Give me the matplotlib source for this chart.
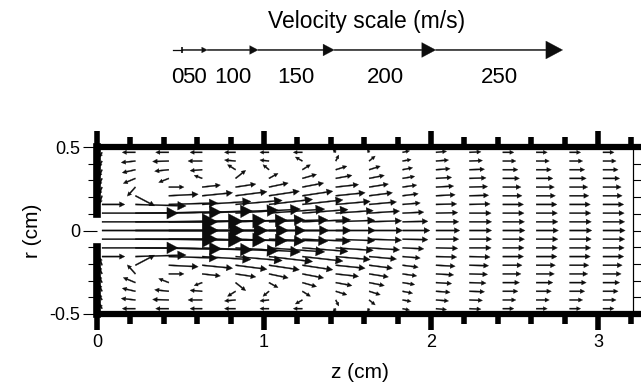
import matplotlib
matplotlib.use("Agg")
import matplotlib.pyplot as plt
import numpy as np

plt.rcParams['font.family'] = ['Liberation Sans', 'DejaVu Sans']
plt.rcParams['axes.unicode_minus'] = False

# ---------------- data ----------------
# axial positions of the arrow columns (cm)
z_cols = [0.03, 0.23, 0.43, 0.63, 0.83, 1.03, 1.23, 1.43,
          1.63, 1.83, 2.03, 2.23, 2.43, 2.63, 2.83, 3.03]
# radial positions of the upper-half rows (cm); field is mirrored about r = 0
r_half = [0.0, 0.052, 0.104, 0.156, 0.208, 0.260, 0.312, 0.364, 0.416, 0.468]

# axial velocity (m/s), one list per column, rows from axis (r=0) to wall
u_half = [
    [230, 228, 150, 45, -5, -6, -6, -6, -6, -5],
    [215, 212, 170, 100, 38, -16, -24, -26, -28, -26],
    [195, 192, 165, 96, 58, 30, -20, -28, -32, -26],
    [170, 168, 150, 96, 60, 36, -16, -24, -28, -24],
    [138, 136, 128, 92, 62, 40, 20, -16, -22, -22],
    [118, 116, 110, 86, 60, 38, 18, -12, -18, -18],
    [96, 95, 90, 80, 60, 42, 28, 16, -14, -18],
    [78, 77, 74, 68, 58, 45, 32, 22, 6, -6],
    [66, 64, 60, 54, 46, 38, 30, 22, 12, -4],
    [54, 50, 42, 35, 31, 28, 24, 20, 17, 14],
    [47, 45, 43, 41, 38, 35, 31, 28, 25, 21],
    [44, 44, 43, 41, 38, 36, 33, 30, 26, 23],
    [44, 43, 42, 41, 38, 36, 33, 30, 26, 22],
    [44, 43, 42, 41, 38, 36, 33, 30, 26, 22],
    [44, 43, 42, 41, 38, 36, 33, 30, 26, 22],
    [44, 43, 42, 41, 38, 36, 33, 30, 26, 22],
]
# radial velocity (m/s), upper half (lower half takes the opposite sign)
v_half = [
    [0, 0, 0, 0, -16, -15, -14, -14, -12, -10],
    [0, 1, 2, -3, -20, -18, -10, -6, -3, 0],
    [0, 2, 4, 3, 3, 0, -8, -3, -1, 0],
    [0, 3, 6, 6, 6, 4, 6, -2, 0, 0],
    [0, 4, 8, 8, 8, 6, 16, 10, 2, 0],
    [0, 4, 8, 10, 9, 8, 10, 10, 2, 0],
    [0, 4, 7, 9, 9, 8, 8, 10, 8, 0],
    [0, 3, 5, 6, 6, 5, 6, 7, 12, 6],
    [0, 2, 4, 5, 6, 6, 6, 7, 10, 6],
    [0, 1, 2, 3, 4, 4, 4, 4, 3, 3],
    [0, 0, 1, 1, 2, 2, 2, 2, 2, 2],
    [0, 0, 0, 1, 1, 1, 1, 1, 1, 1],
    [0, 0, 0, 0, 0, 0, 0, 0, 0, 0],
    [0, 0, 0, 0, 0, 0, 0, 0, 0, 0],
    [0, 0, 0, 0, 0, 0, 0, 0, 0, 0],
    [0, 0, 0, 0, 0, 0, 0, 0, 0, 0],
]

scale_values = [0, 50, 100, 150, 200, 250]
scale_labels = ['0', '50', '100', '150', '200', '250']
x_ticks = [0, 1, 2, 3]
x_ticklabels = ['0', '1', '2', '3']
y_ticks = [-0.5, 0, 0.5]
y_ticklabels = ['-0.5', '0', '0.5']
inlet_radius = 0.1
tube_radius = 0.5

# ---------------- figure ----------------
W, H = 641, 391
fig = plt.figure(figsize=(W / 100, H / 100), dpi=100)
ax = fig.add_axes([97 / W, 1 - 314 / H, 536 / W, 167 / H])
ax.set_xlim(0, 3.21)
ax.set_ylim(-0.5, 0.5)

S = 0.00304  # cm of arrow per m/s
INK = '#0d0d0d'


def draw_arrow(x, y, u, v, clip=True):
    dx, dy = u * S, v * S
    L = float(np.hypot(dx, dy))
    if L < 1e-6:
        return
    hl0 = 0.11 * L + 0.017
    hl = min(hl0, 0.85 * L)
    hw = (0.12 * L + 0.016) * hl / hl0
    ax.arrow(x, y, dx, dy, width=0.0075, head_width=hw, head_length=hl,
             length_includes_head=True, fc=INK, ec=INK, lw=0.2,
             clip_on=clip, zorder=2)


for zc, ucol, vcol in zip(z_cols, u_half, v_half):
    for k, (rr, uu, vv) in enumerate(zip(r_half, ucol, vcol)):
        draw_arrow(zc, rr, uu, vv)
        if k > 0:
            draw_arrow(zc, -rr, uu, -vv)

# walls
wall_kw = dict(color='black', lw=4.5, solid_capstyle='butt', clip_on=False, zorder=4)
ax.plot([0, 3.27], [tube_radius, tube_radius], **wall_kw)
ax.plot([0, 3.27], [-tube_radius, -tube_radius], **wall_kw)
lw_kw = dict(color='black', lw=5.5, solid_capstyle='projecting', clip_on=False, zorder=4)
ax.plot([0, 0], [inlet_radius, tube_radius], **lw_kw)
ax.plot([0, 0], [-tube_radius, -inlet_radius], **lw_kw)

for s in ['top', 'bottom', 'left']:
    ax.spines[s].set_visible(False)
ax.spines['right'].set_linewidth(0.8)

ax.set_xticks(x_ticks)
ax.set_xticklabels(x_ticklabels)
ax.set_xticks(np.arange(0.2, 3.21, 0.2), minor=True)
ax.tick_params(axis='x', which='major', direction='out', length=11.5, width=4,
               top=True, bottom=True, labelsize=13, pad=3, color='black')
ax.tick_params(axis='x', which='minor', direction='out', length=7, width=4,
               top=True, bottom=True, color='black')

ax.set_yticks(y_ticks)
ax.set_yticklabels(y_ticklabels)
ax.set_yticks(np.arange(-0.4, 0.41, 0.1), minor=True)
ax.tick_params(axis='y', which='major', direction='out', length=10, width=0.8,
               left=True, right=False, labelsize=13, pad=2)
ax.tick_params(axis='y', which='minor', direction='out', length=6.5, width=0.8,
               left=True, right=False)

ax2 = ax.twinx()
ax2.set_ylim(-0.5, 0.5)
ax2.set_yticks(np.arange(-0.4, 0.41, 0.1))
ax2.tick_params(axis='y', direction='out', length=5.5, width=0.8, labelright=False)
for s in ['top', 'bottom', 'left']:
    ax2.spines[s].set_visible(False)
ax2.spines['right'].set_linewidth(0.8)

ax.set_xlabel('z (cm)', fontsize=15)
ax.xaxis.set_label_coords((360 - 97) / 536, (314 - 372) / 167)
ax.xaxis.label.set_va('center')
ax.set_ylabel('r (cm)', fontsize=15)
ax.yaxis.set_label_coords((33 - 97) / 536, 0.5)
ax.yaxis.label.set_va('center')

# ---------------- velocity scale ----------------
y_s = 1.081
z_line0 = 0.455
z0 = 0.509
ax.plot([z_line0, z0], [y_s, y_s], color=INK, lw=0.9, clip_on=False)
ax.plot([z0], [y_s], marker='|', ms=4, color=INK, mew=1.2, clip_on=False)
start = z0
mids = []
for val in scale_values:
    if val == 0:
        mids.append((z_line0 + z0) / 2)
        continue
    draw_arrow(start, y_s, val, 0, clip=False)
    mids.append(start + val * S / 2)
    start += val * S
for m, lab in zip(mids, scale_labels):
    ax.text(m, 0.881, lab, ha='center', va='baseline', fontsize=16, clip_on=False)
ax.text(1.617, 1.213, 'Velocity scale (m/s)', ha='center', va='baseline',
        fontsize=16.5, clip_on=False)

fig.savefig('out.png', dpi=100, facecolor='white')
